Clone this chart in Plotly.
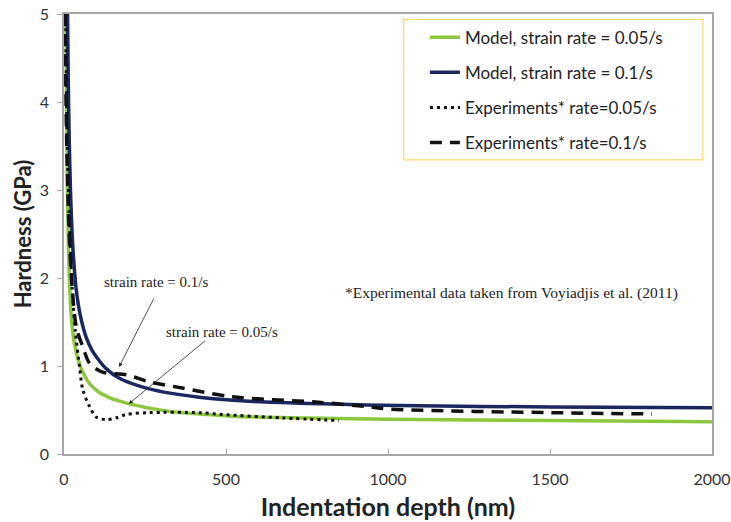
import plotly.graph_objects as go

# Model, strain rate = 0.05/s
model05_h = [6, 8, 10, 14, 20, 26, 34, 48, 62, 79, 105, 140, 202, 315, 520, 750, 1000, 1500, 2000]
model05_H = [5.0, 3.9, 3.2, 2.3, 1.70, 1.42, 1.22, 1.02, 0.90, 0.80, 0.71, 0.64, 0.57, 0.49, 0.43, 0.41, 0.395, 0.38, 0.367]

# Model, strain rate = 0.1/s
model1_h = [11, 13, 16, 20, 25, 31, 38, 50, 69, 88, 109, 130, 171, 263, 417, 571, 800, 1034, 1500, 2000]
model1_H = [5.0, 4.3, 3.6, 3.0, 2.5, 2.15, 1.86, 1.58, 1.32, 1.17, 1.06, 0.97, 0.86, 0.74, 0.645, 0.60, 0.57, 0.55, 0.535, 0.526]

# Experiments* rate=0.05/s
exp05_h = [5, 10, 18, 25, 35, 48, 58, 79, 99, 130, 161, 192, 263, 417, 488, 673, 849]
exp05_H = [5.0, 3.5, 2.5, 1.9, 1.4, 0.99, 0.73, 0.54, 0.42, 0.39, 0.41, 0.45, 0.47, 0.47, 0.45, 0.41, 0.38]

# Experiments* rate=0.1/s
exp1_h = [3, 8, 15, 25, 38, 58, 79, 119, 192, 263, 365, 520, 778, 932, 1004, 1500, 1815]
exp1_H = [5.0, 3.6, 2.6, 1.9, 1.44, 1.22, 1.03, 0.93, 0.90, 0.82, 0.75, 0.65, 0.59, 0.54, 0.51, 0.47, 0.455]

x_ticks = [0, 500, 1000, 1500, 2000]
y_ticks = [0, 1, 2, 3, 4, 5]

fig = go.Figure()
fig.add_trace(go.Scatter(x=model05_h, y=model05_H, mode="lines", name="Model, strain rate = 0.05/s",
                         line=dict(color="#8DC63F", width=3.5, shape="spline", smoothing=0.8), legendgroup="a"))
fig.add_trace(go.Scatter(x=model1_h, y=model1_H, mode="lines", name="Model, strain rate = 0.1/s",
                         line=dict(color="#1B2860", width=3.5, shape="spline", smoothing=0.8), legendgroup="b"))
fig.add_trace(go.Scatter(x=exp05_h, y=exp05_H, mode="lines", name="Experiments* rate=0.05/s",
                         line=dict(color="#111111", width=3, dash="3px,4px", shape="spline", smoothing=0.8), legendgroup="c"))
fig.add_trace(go.Scatter(x=exp1_h, y=exp1_H, mode="lines", name="Experiments* rate=0.1/s",
                         line=dict(color="#111111", width=3.5, dash="12px,8px", shape="spline", smoothing=0.8), legendgroup="d"))

axis_common = dict(showline=True, linecolor="#A6A6A6", linewidth=1.5, mirror=True,
                   showgrid=False, zeroline=False, ticklen=5, tickcolor="#A6A6A6", automargin=False,
                   tickfont=dict(family="Lato, Open Sans, sans-serif", size=16, color="#333333"))

fig.update_xaxes(range=[0, 2000], tickvals=x_ticks, ticks="inside", ticklabelstandoff=10,
                 title=dict(text="<b>Indentation depth (nm)</b>", standoff=12,
                            font=dict(family="Lato, Open Sans, sans-serif", size=25, color="#222222")),
                 **axis_common)
fig.update_yaxes(range=[0, 5], tickvals=y_ticks, ticks="outside", ticklabelstandoff=5,
                 title=dict(text="<b>Hardness (GPa)</b>", standoff=2,
                            font=dict(family="Lato, Open Sans, sans-serif", size=22, color="#222222")),
                 **axis_common)

serif = dict(family="Liberation Serif, Times New Roman, serif", size=15, color="#222222")
arrow = dict(xref="x", yref="y", axref="x", ayref="y", text="", showarrow=True,
             arrowhead=2, arrowsize=1, arrowwidth=0.8, arrowcolor="#222222")
ann = [
    dict(x=170, y=0.99, ax=279, ay=1.78, **arrow),
    dict(x=200, y=0.57, ax=440, ay=1.30, **arrow),
    dict(x=285, y=1.96, xref="x", yref="y", text="strain rate = 0.1/s", showarrow=False, font=serif),
    dict(x=489, y=1.39, xref="x", yref="y", text="strain rate = 0.05/s", showarrow=False, font=serif),
    dict(x=1380, y=1.83, xref="x", yref="y", text="*Experimental data taken from Voyiadjis et al. (2011)",
         showarrow=False, font=dict(family="Liberation Serif, Times New Roman, serif", size=15.5, color="#222222")),
]
fig.update_layout(annotations=ann)

# gold legend frame
fig.add_shape(type="rect", xref="paper", yref="paper", x0=0.5243, x1=0.986, y0=0.6686, y1=0.9875,
              line=dict(color="#FFD966", width=1.2), fillcolor="rgba(0,0,0,0)", layer="above")

fig.update_layout(
    width=731, height=522,
    margin=dict(l=64, r=19, t=14, b=68),
    paper_bgcolor="white", plot_bgcolor="white",
    legend=dict(x=0.557, y=0.987, xanchor="left", yanchor="top",
                bgcolor="rgba(0,0,0,0)", borderwidth=0,
                font=dict(family="Lato, Open Sans, sans-serif", size=17, color="#222222"),
                tracegroupgap=10, itemwidth=30),
)

fig.write_html("out.html")
